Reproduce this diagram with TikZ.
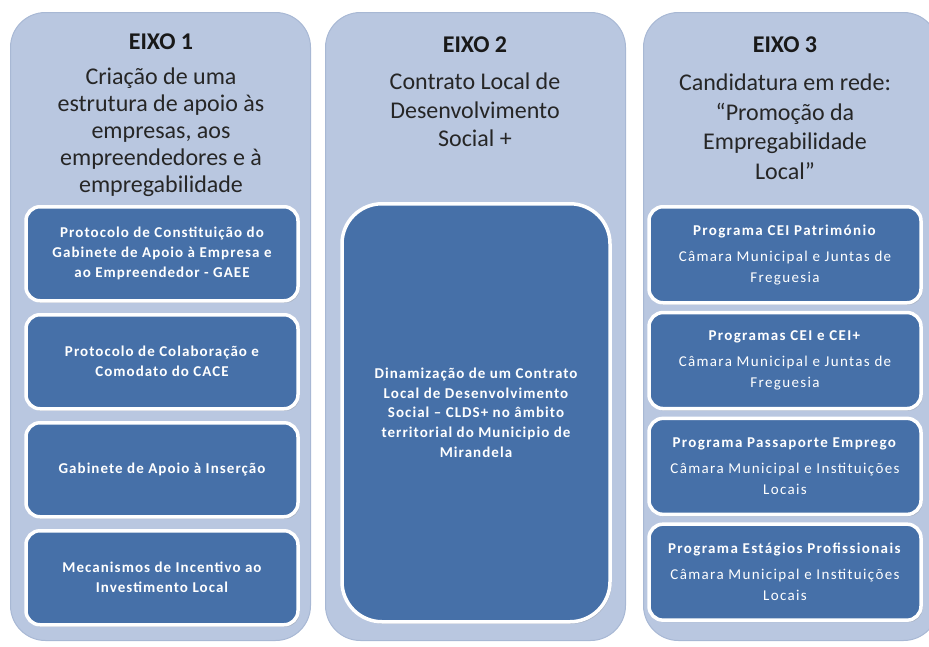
\documentclass[tikz,border=0pt]{standalone}
\usepackage{fontspec}
\setmainfont{Carlito}
\newfontfamily\acaofont[LetterSpace=7]{Carlito}
\newfontfamily\programafont[LetterSpace=9]{Carlito}
\usetikzlibrary{positioning,shadows}

\definecolor{eixofill}{RGB}{185,199,224}
\definecolor{eixoline}{RGB}{168,184,212}
\definecolor{acaofill}{RGB}{70,112,168}

\tikzstyle{eixo} = [rectangle, rounded corners=35pt, minimum width=300pt, minimum height=628pt, anchor=north west, fill=eixofill, draw=eixoline, line width=1pt]
\tikzstyle{titulo} = [font=\fontsize{24}{27}\selectfont\bfseries, text=black!90]
\tikzstyle{tema} = [font=\fontsize{24}{28}\selectfont, align=center, text=black!85]
\tikzstyle{acao} = [rectangle, rounded corners=14pt, minimum width=272pt, minimum height=94pt, text centered, align=center, fill=acaofill, draw=white, line width=3.5pt, text=white, font=\fontsize{15}{20}\selectfont\acaofont\bfseries, drop shadow={shadow xshift=1.5pt, shadow yshift=-2pt, opacity=0.3}]
\tikzstyle{programa} = [acao, minimum height=96pt, font=\fontsize{15}{21}\selectfont\programafont]

\begin{document}
\begin{tikzpicture}[x=1pt, y=-1pt, node distance=10.5pt]
        \useasboundingbox (0,0) rectangle (929,646);
        \clip (0,0) rectangle (929,646);

        % colunas
        \node (eixo1) [eixo] at (10,12) {};
        \node (eixo2) [eixo] at (325,12) {};
        \node (eixo3) [eixo, minimum width=295pt] at (643,12) {};

        % eixo 1
        \node (titulo1) [titulo] at (161,42) {EIXO 1};
        \node (tema1) [tema, font=\fontsize{24}{27}\selectfont, below=11pt of titulo1] {Criação de uma\\ estrutura de apoio às\\ empresas, aos\\ empreendedores e à\\ empregabilidade};
        \node (gaee) [acao, minimum height=94pt, anchor=north] at (162,205) {Protocolo de Constituição do\\ Gabinete de Apoio à Empresa e\\ ao Empreendedor - GAEE};
        \node (cace) [acao, below=of gaee] {Protocolo de Colaboração e\\ Comodato do CACE};
        \node (insercao) [acao, below=of cace] {Gabinete de Apoio à Inserção};
        \node (incentivo) [acao, below=of insercao] {Mecanismos de Incentivo ao\\ Investimento Local};

        % eixo 2
        \node (titulo2) [titulo] at (475,45) {EIXO 2};
        \node (tema2) [tema, font=\fontsize{24}{28.5}\selectfont, below=13pt of titulo2] {Contrato Local de\\ Desenvolvimento\\ Social +};
        \node (clds) [acao, rounded corners=40pt, minimum width=268pt, minimum height=418pt, anchor=north, font=\fontsize{15}{19.7}\selectfont\acaofont\bfseries] at (476,202) {Dinamização de um Contrato\\ Local de Desenvolvimento\\ Social – CLDS+ no âmbito\\ territorial do Municipio de\\ Mirandela};

        % eixo 3
        \node (titulo3) [titulo] at (785,45) {EIXO 3};
        \node (tema3) [tema, font=\fontsize{24}{29.5}\selectfont, below=14pt of titulo3] {Candidatura em rede:\\ “Promoção da\\ Empregabilidade\\ Local”};
        \node (patrimonio) [programa, anchor=north] at (785,205) {\textbf{Programa CEI Património}\\[5pt] Câmara Municipal e Juntas de\\ Freguesia};
        \node (cei) [programa, below=6.3pt of patrimonio] {\textbf{Programas CEI e CEI+}\\[5pt] Câmara Municipal e Juntas de\\ Freguesia};
        \node (passaporte) [programa, below=6.3pt of cei] {\textbf{Programa Passaporte Emprego}\\[5pt] Câmara Municipal e Instituições\\ Locais};
        \node (estagios) [programa, below=6.3pt of passaporte] {\textbf{Programa Estágios Profissionais}\\[5pt] Câmara Municipal e Instituições\\ Locais};
\end{tikzpicture}
\end{document}
